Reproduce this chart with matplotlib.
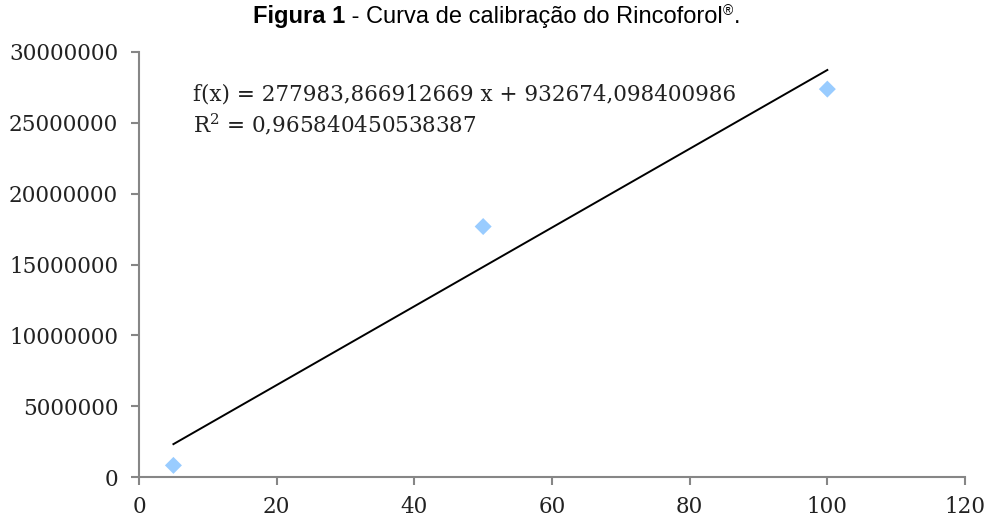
import numpy as np
import matplotlib
matplotlib.use("Agg")
import matplotlib.pyplot as plt

plt.rcParams['mathtext.fontset'] = 'dejavuserif'

# Data
conc = [5, 50, 100]
area = [820000, 17680000, 27380000]

eq_text = "f(x) = 277983,866912669 x + 932674,098400986"
r2_text = "R$^2$ = 0,965840450538387"
x_ticks = [0, 20, 40, 60, 80, 100, 120]
y_ticks = [0, 5000000, 10000000, 15000000, 20000000, 25000000, 30000000]

fig = plt.figure(figsize=(9.89, 5.2), dpi=100)
ax = fig.add_axes([139/989, 43/520, 826/989, 425/520])

# Linear trendline from the points
slope, intercept = np.polyfit(conc, area, 1)
xl = np.array([conc[0], conc[-1]])
ax.plot(xl, slope * xl + intercept, color='black', lw=1.4)

ax.scatter(conc, area, marker='D', s=75, color='#99ccff', edgecolors='none', zorder=3)

ax.set_xlim(0, 120)
ax.set_ylim(0, 30000000)
ax.set_xticks(x_ticks)
ax.set_yticks(y_ticks)
ax.set_xticklabels([str(v) for v in x_ticks], family='DejaVu Serif', fontsize=15.5, color='#222222')
ax.set_yticklabels([str(v) for v in y_ticks], family='DejaVu Serif', fontsize=15.5, color='#222222')
for s in ['top', 'right']:
    ax.spines[s].set_visible(False)
for s in ['left', 'bottom']:
    ax.spines[s].set_color('#868686')
    ax.spines[s].set_linewidth(1.5)
ax.tick_params(direction='out', length=6, width=1.5, color='#868686')
ax.tick_params(axis='y', pad=9)
ax.tick_params(axis='x', pad=8)

ax.text(7.8, 27000000, eq_text, family='DejaVu Serif', fontsize=15.5, va='center', color='#222222')
ax.text(7.8, 24900000, r2_text, family='DejaVu Serif', fontsize=15.5, va='center', color='#222222')

# Title: bold part + normal part + small raised ®
t1 = fig.text(0.256, 0.99, "Figura 1", family='Liberation Sans', fontweight='bold',
              fontsize=17, va='top', ha='left')
t2 = ax.annotate(" - Curva de calibração do Rincoforol", xy=(1, 0), xycoords=t1,
                 va='bottom', ha='left', family='Liberation Sans', fontsize=17)
t3 = ax.annotate("®", xy=(1, 0.45), xycoords=t2, va='bottom', ha='left',
                 family='Liberation Sans', fontsize=10)
ax.annotate(".", xy=(1, 0), xycoords=(t3, t2),
            va='bottom', ha='left', family='Liberation Sans', fontsize=17)

fig.savefig('out.png', dpi=100)
